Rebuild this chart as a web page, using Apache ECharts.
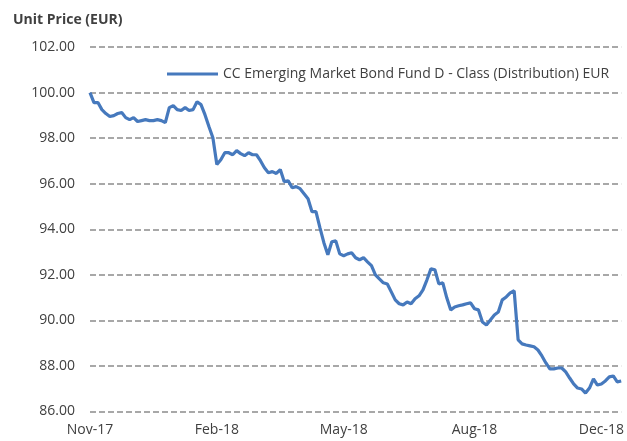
<!DOCTYPE html>
<html>
<head>
<meta charset="utf-8">
<script src="https://cdn.jsdelivr.net/npm/echarts@6/dist/echarts.min.js"></script>
<style>
  html, body { margin: 0; padding: 0; background: #fff; }
  #chart { width: 627px; height: 441px; }
</style>
</head>
<body>
<div id="chart"></div>
<script>
// unit price, one point every ~4px along the x axis
var prices = [
  100.00, 99.56, 99.56, 99.25, 99.08, 98.95, 98.99, 99.08, 99.12, 98.90,
  98.81, 98.90, 98.73, 98.77, 98.81, 98.77, 98.77, 98.81, 98.77, 98.68,
  99.34, 99.43, 99.25, 99.21, 99.34, 99.21, 99.25, 99.60, 99.47, 99.03,
  98.51, 98.02, 96.84, 97.05, 97.36, 97.36, 97.27, 97.45, 97.32, 97.23,
  97.36, 97.27, 97.27, 97.01, 96.70, 96.48, 96.53, 96.45, 96.62, 96.09,
  96.13, 95.82, 95.87, 95.78, 95.56, 95.34, 94.77, 94.77, 94.07, 93.41,
  92.88, 93.45, 93.49, 92.92, 92.84, 92.92, 92.97, 92.75, 92.66, 92.75,
  92.57, 92.40, 92.00, 91.82, 91.65, 91.60, 91.25, 90.90, 90.73, 90.68,
  90.81, 90.73, 90.95, 91.08, 91.34, 91.78, 92.26, 92.22, 91.60, 91.65,
  90.99, 90.46, 90.59, 90.64, 90.68, 90.73, 90.77, 90.51, 90.46, 89.93,
  89.80, 90.02, 90.24, 90.37, 90.90, 91.03, 91.21, 91.30, 89.14, 88.97,
  88.92, 88.88, 88.84, 88.70, 88.44, 88.13, 87.87, 87.87, 87.91, 87.91,
  87.74, 87.47, 87.21, 87.03, 86.99, 86.81, 87.03, 87.43, 87.16, 87.21,
  87.34, 87.52, 87.56, 87.30, 87.34
];
var tickLabels = ['Nov-17', 'Feb-18', 'May-18', 'Aug-18', 'Dec-18'];
var tickIdx = [0, 32, 64, 97, 129];
var seriesName = 'CC Emerging Market Bond Fund D - Class (Distribution) EUR';

var categories = prices.map(function (v, i) {
  var k = tickIdx.indexOf(i);
  return k >= 0 ? tickLabels[k] : '';
});

var chart = echarts.init(document.getElementById('chart'));
chart.setOption({
  backgroundColor: '#fff',
  animation: false,
  title: {
    text: 'Unit Price (EUR)',
    left: 8,
    top: 8,
    textStyle: { fontFamily: 'Open Sans', fontSize: 14, fontWeight: 'bold', color: '#404040' }
  },
  legend: {
    left: 162,
    top: 62,
    icon: 'rect',
    itemWidth: 51,
    itemHeight: 3,
    itemGap: 6,
    textStyle: { fontFamily: 'Open Sans', fontSize: 14, color: '#404040' },
    data: [seriesName]
  },
  grid: { left: 90, right: 1, top: 47, bottom: 29.5, containLabel: false },
  xAxis: {
    type: 'category',
    data: categories,
    boundaryGap: false,
    axisLine: { show: false },
    axisTick: { show: false },
    axisLabel: {
      interval: function (i) { return tickIdx.indexOf(i) >= 0; },
      margin: 12,
      fontFamily: 'Open Sans',
      fontSize: 14,
      color: '#404040',
      hideOverlap: false
    },
    splitLine: { show: false }
  },
  yAxis: {
    type: 'value',
    min: 86,
    max: 102,
    interval: 2,
    axisLine: { show: false },
    axisTick: { show: false },
    axisLabel: {
      margin: 15,
      fontFamily: 'Open Sans',
      fontSize: 14,
      color: '#404040',
      formatter: function (v) { return v.toFixed(2); }
    },
    splitLine: { lineStyle: { color: '#8c8c8c', type: [6, 3], width: 1.5 } }
  },
  series: [{
    name: seriesName,
    type: 'line',
    data: prices,
    symbol: 'none',
    lineStyle: { color: '#4679BD', width: 3.2 },
    itemStyle: { color: '#4679BD' }
  }]
});
</script>
</body>
</html>
